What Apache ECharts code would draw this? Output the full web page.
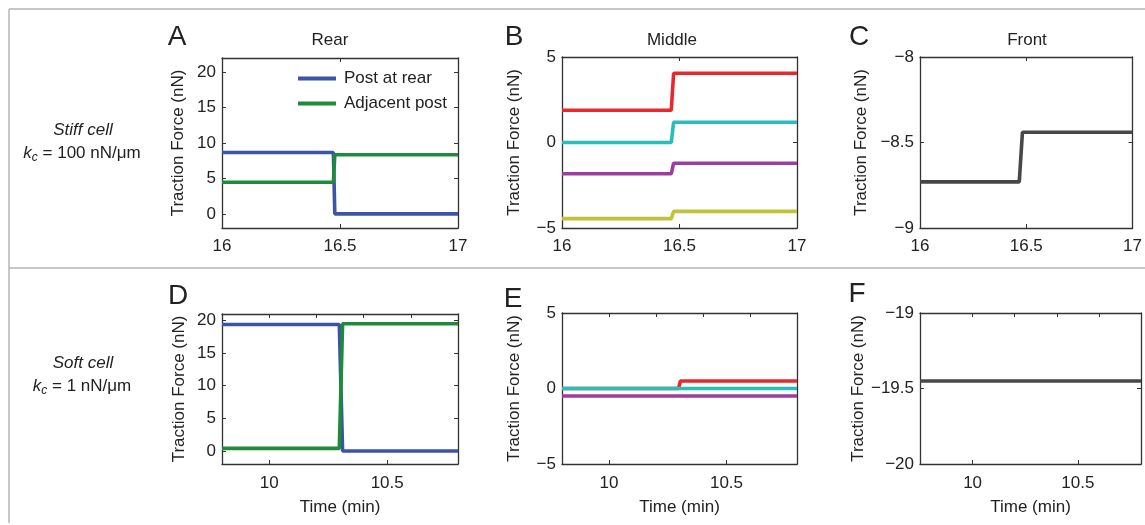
<!DOCTYPE html>
<html>
<head>
<meta charset="utf-8">
<script src="https://cdn.jsdelivr.net/npm/echarts@6/dist/echarts.min.js"></script>
<style>html,body{margin:0;padding:0;background:#fff;}#chart{width:1145px;height:525px;}</style>
</head>
<body>
<div id="chart"></div>
<script>
// ---- data ----
// Panel A: stiff cell, rear
const aTime = [16, 16.472, 16.478, 17];
const aRearPost = [8.65, 8.65, 0, 0];
const aAdjPost = [4.45, 4.45, 8.35, 8.35];
// Panel B: stiff cell, middle
const bTime = [16, 16.465, 16.475, 17];
const bRed = [1.89, 1.89, 4.05, 4.05];
const bCyan = [0, 0, 1.18, 1.18];
const bMagenta = [-1.83, -1.83, -1.21, -1.21];
const bYellow = [-4.45, -4.45, -4.03, -4.03];
// Panel C: stiff cell, front
const cTime = [16, 16.467, 16.482, 17];
const cFront = [-8.73, -8.73, -8.44, -8.44];
// Panel D: soft cell, rear
const dTime = [9.8, 10.297, 10.311, 10.8];
const dRearPost = [19.4, 19.4, 0, 0];
const dAdjPost = [0.4, 0.4, 19.5, 19.5];
// Panel E: soft cell, middle
const eTime = [9.8, 10.296, 10.304, 10.8];
const eRed = [0, 0, 0.5, 0.5];
const eCyan = [0, 0, 0, 0];
const eMagenta = [-0.5, -0.5, -0.5, -0.5];
// Panel F: soft cell, front
const fTime = [9.75, 10.8];
const fFront = [-19.45, -19.45];

// axis ticks
const forceTicksRear = [0, 5, 10, 15, 20];
const timeTicksSoft = [10, 10.5];
const timeTicksSoftTop = [10, 10.2, 10.4, 10.6];

const legendNames = ['Post at rear', 'Adjacent post'];
const titles = ['Rear', 'Middle', 'Front'];
const letters = ['A', 'B', 'C', 'D', 'E', 'F'];
const yName = 'Traction Force (nN)';
const xName = 'Time (min)';

// ---- styling ----
const FONT = '"Liberation Sans", Arial, Helvetica, sans-serif';
const TXT = '#222';
const AX = '#333';
const C = {
  blue: '#3b54a8', green: '#1f8b3a', red: '#e8282a', cyan: '#2bbcbc',
  magenta: '#9c3e9e', yellow: '#c2c13c', gray: '#474747'
};
const zip = (xs, ys) => xs.map((x, i) => [x, ys[i]]);
const minus = v => String(v).replace('-', '\u2212');

const grids = [
  {left: 222, top: 58, width: 236, height: 170},
  {left: 562, top: 57, width: 235, height: 171},
  {left: 920, top: 57, width: 221, height: 171},
  {left: 222, top: 314, width: 236, height: 150},
  {left: 562, top: 313, width: 235, height: 151},
  {left: 920, top: 313, width: 221, height: 151}
];

const xCfg = [
  {min: 16, max: 17, interval: 0.5},
  {min: 16, max: 17, interval: 0.5},
  {min: 16, max: 17, interval: 0.5},
  {min: 9.8, max: 10.8, custom: timeTicksSoft, customTop: timeTicksSoftTop, name: true},
  {min: 9.8, max: 10.8, custom: timeTicksSoft, customTop: timeTicksSoftTop, name: true},
  {min: 9.75, max: 10.8, custom: timeTicksSoft, customTop: timeTicksSoftTop, name: true}
];
const yCfg = [
  {min: -2, max: 22, custom: forceTicksRear, gap: 35},
  {min: -5, max: 5, interval: 5, gap: 39},
  {min: -9, max: -8, interval: 0.5, gap: 50},
  {min: -2, max: 21, custom: forceTicksRear, gap: 34},
  {min: -5, max: 5, interval: 5, gap: 39},
  {min: -20, max: -19, interval: 0.5, gap: 50}
];

const lineAx = {show: true, onZero: false, lineStyle: {color: AX, width: 1.3}};
const xAxes = [], yAxes = [];
xCfg.forEach((c, i) => {
  const ax = {
    type: 'value', gridIndex: i, min: c.min, max: c.max, position: 'bottom',
    axisLine: lineAx, splitLine: {show: false},
    axisTick: {show: true, inside: true, length: 4, lineStyle: {color: AX}},
    axisLabel: {margin: i < 3 ? 10 : 11, color: TXT, fontSize: 17, fontFamily: FONT, formatter: minus}
  };
  if (c.interval) ax.interval = c.interval;
  if (c.custom) { ax.axisLabel.customValues = c.custom; ax.axisTick.customValues = c.custom; }
  if (c.name) {
    ax.name = xName; ax.nameLocation = 'middle'; ax.nameGap = 35;
    ax.nameTextStyle = {color: TXT, fontSize: 17, fontFamily: FONT};
  }
  xAxes.push(ax);
});
xCfg.forEach((c, i) => {
  const ax = {
    type: 'value', gridIndex: i, min: c.min, max: c.max, position: 'top',
    axisLine: lineAx, splitLine: {show: false}, axisLabel: {show: false},
    axisTick: {show: true, inside: true, length: 4, lineStyle: {color: AX}}
  };
  if (c.interval) ax.interval = c.interval;
  if (c.customTop) { ax.axisTick.customValues = c.customTop; ax.axisLabel.customValues = c.customTop; }
  xAxes.push(ax);
});
yCfg.forEach((c, i) => {
  const ax = {
    type: 'value', gridIndex: i, min: c.min, max: c.max, position: 'left',
    axisLine: lineAx, splitLine: {show: false},
    axisTick: {show: true, inside: true, length: 4, lineStyle: {color: AX}},
    axisLabel: {margin: 6, color: TXT, fontSize: 17, fontFamily: FONT, formatter: minus},
    name: yName, nameLocation: 'middle', nameGap: c.gap,
    nameTextStyle: {color: TXT, fontSize: 17, fontFamily: FONT}
  };
  if (c.interval) ax.interval = c.interval;
  if (c.custom) { ax.axisLabel.customValues = c.custom; ax.axisTick.customValues = c.custom; }
  yAxes.push(ax);
});
yCfg.forEach((c, i) => {
  const ax = {
    type: 'value', gridIndex: i, min: c.min, max: c.max, position: 'right',
    axisLine: lineAx, splitLine: {show: false}, axisLabel: {show: false},
    axisTick: {show: true, inside: true, length: 4, lineStyle: {color: AX}}
  };
  if (c.interval) ax.interval = c.interval;
  if (c.custom) { ax.axisTick.customValues = c.custom; ax.axisLabel.customValues = c.custom; }
  yAxes.push(ax);
});

function line(name, panel, xs, ys, color) {
  return {
    name: name, type: 'line', xAxisIndex: panel, yAxisIndex: panel,
    data: zip(xs, ys), symbol: 'none', showSymbol: false, silent: true,
    lineStyle: {color: color, width: 3.6}, itemStyle: {color: color},
    animation: false
  };
}

const series = [
  line(legendNames[0], 0, aTime, aRearPost, C.blue),
  line(legendNames[1], 0, aTime, aAdjPost, C.green),
  line('B red', 1, bTime, bRed, C.red),
  line('B cyan', 1, bTime, bCyan, C.cyan),
  line('B magenta', 1, bTime, bMagenta, C.magenta),
  line('B yellow', 1, bTime, bYellow, C.yellow),
  line('C front', 2, cTime, cFront, C.gray),
  line('D rear', 3, dTime, dRearPost, C.blue),
  line('D adjacent', 3, dTime, dAdjPost, C.green),
  line('E red', 4, eTime, eRed, C.red),
  line('E cyan', 4, eTime, eCyan, C.cyan),
  line('E magenta', 4, eTime, eMagenta, C.magenta),
  line('F front', 5, fTime, fFront, C.gray)
];

const txt = (text, x, y, size, extra) => ({
  type: 'text', x: x, y: y, silent: true,
  style: Object.assign({text: text, fontSize: size, fontFamily: FONT, fill: TXT, align: 'center', verticalAlign: 'middle'}, extra || {})
});
const kc = (rest, x, y) => ({
  type: 'text', x: x, y: y, silent: true,
  style: {
    text: '{k|k}{s|c}{n| = ' + rest + '}', align: 'center', verticalAlign: 'middle', fill: TXT,
    fontSize: 17, fontFamily: FONT,
    rich: {
      k: {fontSize: 17, fontStyle: 'italic', fontFamily: FONT, fill: TXT},
      s: {fontSize: 12, fontStyle: 'italic', fontFamily: FONT, fill: TXT, padding: [9, 0, 0, 0]},
      n: {fontSize: 17, fontFamily: FONT, fill: TXT}
    }
  }
});
const border = {stroke: '#b4b4b4', lineWidth: 1.5};
const graphics = [
  {type: 'line', silent: true, shape: {x1: 9, y1: 9, x2: 1145, y2: 9}, style: border},
  {type: 'line', silent: true, shape: {x1: 9, y1: 9, x2: 9, y2: 523}, style: border},
  {type: 'line', silent: true, shape: {x1: 9, y1: 268, x2: 1145, y2: 268}, style: border},
  txt(titles[0], 330, 40, 17),
  txt(titles[1], 672, 40, 17),
  txt(titles[2], 1027, 40, 17),
  txt(letters[0], 177, 37, 28),
  txt(letters[1], 514, 37, 28),
  txt(letters[2], 859, 37, 28),
  txt(letters[3], 178, 296, 28),
  txt(letters[4], 513, 299, 28),
  txt(letters[5], 857, 294, 28),
  txt('Stiff cell', 83, 130, 17, {fontStyle: 'italic'}),
  kc('100 nN/\u03bcm', 82, 153),
  txt('Soft cell', 83, 363, 17, {fontStyle: 'italic'}),
  kc('1 nN/\u03bcm', 82, 386)
];

const chart = echarts.init(document.getElementById('chart'), null, {renderer: 'canvas'});
chart.setOption({
  animation: false,
  backgroundColor: '#fff',
  grid: grids.map(g => Object.assign({containLabel: false}, g)),
  xAxis: xAxes,
  yAxis: yAxes,
  legend: {
    data: legendNames, orient: 'vertical', left: 293, top: 65,
    itemWidth: 38, itemHeight: 4, itemGap: 8, icon: 'rect', selectedMode: false,
    textStyle: {color: TXT, fontSize: 17, fontFamily: FONT, padding: [0, 0, 0, 3]}
  },
  series: series,
  graphic: graphics
});
</script>
</body>
</html>
